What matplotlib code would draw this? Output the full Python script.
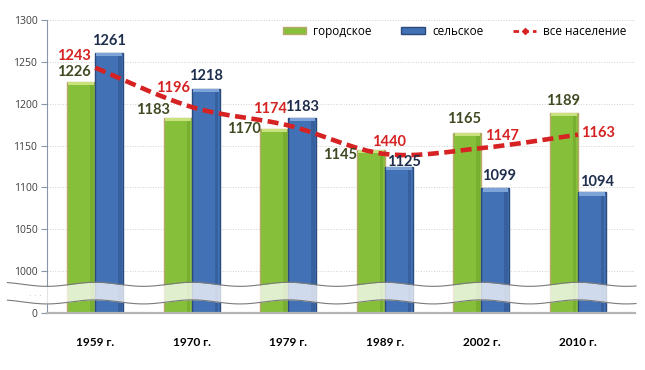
import numpy as np
import matplotlib
matplotlib.use('Agg')
import matplotlib.pyplot as plt
from matplotlib.path import Path
from matplotlib.patches import PathPatch, Patch
from matplotlib.lines import Line2D

years = ['1959 г.', '1970 г.', '1979 г.', '1989 г.', '2002 г.', '2010 г.']
urban = [1226, 1183, 1170, 1145, 1165, 1189]
rural = [1261, 1218, 1183, 1125, 1099, 1094]
total = [1243, 1196, 1174, 1140, 1147, 1163]
total_labels = ['1243', '1196', '1174', '1440', '1147', '1163']

# label offsets in pixels (dx, dy) from the bar top / line point
urban_off = [(-7, 10), (-25, 8), (-30, 0), (-31, -5), (-3, 14), (-1, 12)]
rural_off = [(0, 12), (0, 13), (0, 11), (5, 4), (4, 12), (5, 10)]
total_off = [(-21, 12), (-19, 19), (-18, 16), (4, 12), (20, 12), (20, 2)]

GREEN = '#86c03a'
GREEN_EDGE = '#b9a66a'
BLUE = '#4271b5'
BLUE_EDGE = '#2b4a7c'
RED = '#d62222'

plt.rcParams['font.family'] = ['Open Sans', 'DejaVu Sans']


def fwd(v):
    v = np.asarray(v, dtype=float)
    return np.where(v >= 1000, v, 950 + v * 0.05)


def inv(u):
    u = np.asarray(u, dtype=float)
    return np.where(u >= 1000, u, (u - 950) / 0.05)


fig = plt.figure(figsize=(6.45, 3.70), dpi=100)
ax = fig.add_axes([0.0729, 0.154, 0.9116, 0.792])
ax.set_yscale('function', functions=(fwd, inv))
ax.set_ylim(0, 1300)
ax.set_xlim(-0.5, 5.59)

x = np.arange(len(years))
w = 0.29

ax.set_yticks([0, 1000, 1050, 1100, 1150, 1200, 1250, 1300])
ax.set_yticklabels(['0', '1000', '1050', '1100', '1150', '1200', '1250', '1300'])
ax.tick_params(axis='y', labelsize=7.5, labelcolor='#404040', color='#8a96a8',
               length=4, width=0.8, pad=3)
ax.set_xticks(x)
ax.set_xticklabels(years, fontsize=8.5, fontweight='bold', family=['Lato', 'Open Sans'])
ax.tick_params(axis='x', length=0, pad=17)

for v in [1000, 1050, 1100, 1150, 1200, 1250, 1300]:
    ax.axhline(v, color='#d0d0d0', lw=0.7, ls=':', zorder=0)

for s in ['top', 'right']:
    ax.spines[s].set_visible(False)
ax.spines['left'].set_color('#8a96a8')
ax.spines['bottom'].set_color('#b4b4b4')
ax.spines['bottom'].set_linewidth(1.6)

bars_u = ax.bar(x - w / 2, urban, w, color=GREEN, edgecolor=GREEN_EDGE, lw=1.0, zorder=2)
bars_r = ax.bar(x + w / 2, rural, w, color=BLUE, edgecolor=BLUE_EDGE, lw=1.0, zorder=2)
# light top caps
ax.bar(x - w / 2, 4, w * 0.92, bottom=np.array(urban) - 4, color='#c9e27e', lw=0, zorder=3)
ax.bar(x + w / 2, 4, w * 0.92, bottom=np.array(rural) - 4, color='#7ea3d6', lw=0, zorder=3)
# shading on the right side of bars
ax.bar(x - w / 2 + w * 0.38, urban, w * 0.12, color='#6fa52c', lw=0, alpha=0.6, zorder=2.5)
ax.bar(x + w / 2 + w * 0.38, rural, w * 0.12, color='#2f5590', lw=0, alpha=0.6, zorder=2.5)

# smooth line through total values (Catmull-Rom as cubic beziers)
pts = np.column_stack([x, total]).astype(float)
verts = [tuple(pts[0])]
codes = [Path.MOVETO]
for i in range(len(pts) - 1):
    p0 = pts[i - 1] if i > 0 else pts[i]
    p1 = pts[i]
    p2 = pts[i + 1]
    p3 = pts[i + 2] if i + 2 < len(pts) else pts[i + 1]
    c1 = p1 + (p2 - p0) / 6
    c2 = p2 - (p3 - p1) / 6
    verts += [tuple(c1), tuple(c2), tuple(p2)]
    codes += [Path.CURVE4, Path.CURVE4, Path.CURVE4]
curve = PathPatch(Path(verts, codes), fill=False, edgecolor=RED, lw=3.3,
                  linestyle=(0, (2.4, 1.2)), zorder=4)
ax.add_patch(curve)

# axis break
trans = ax.get_xaxis_transform()
xs = np.linspace(-0.91, 5.6, 400)
wave = 0.007 * np.cos(2 * np.pi * xs)
y_hi = 0.098 + wave
y_lo = 0.038 + wave
ax.fill_between(xs, y_lo, y_hi, transform=trans, color='white', alpha=0.75,
                lw=0, zorder=5, clip_on=False)
ax.plot(xs, y_hi, transform=trans, color='#7a7a7a', lw=0.8, zorder=6, clip_on=False)
ax.plot(xs, y_lo, transform=trans, color='#7a7a7a', lw=0.8, zorder=6, clip_on=False)
ax.text(-0.62, 0.068, '. . .', transform=trans, ha='center', va='center',
        fontsize=7, color='#404040')

num_font = ['Lato', 'Open Sans']
for i in range(len(years)):
    ax.annotate(str(urban[i]), (x[i] - w / 2, urban[i]), xytext=urban_off[i],
                textcoords='offset pixels', ha='center', va='center',
                fontsize=10.5, fontweight='bold', color='#3f4a22', family=num_font, zorder=7)
    ax.annotate(str(rural[i]), (x[i] + w / 2, rural[i]), xytext=rural_off[i],
                textcoords='offset pixels', ha='center', va='center',
                fontsize=10.5, fontweight='bold', color='#1e2e4c', family=num_font, zorder=7)
    ax.annotate(total_labels[i], (x[i], total[i]), xytext=total_off[i],
                textcoords='offset pixels', ha='center', va='center',
                fontsize=10.5, fontweight='bold', color=RED, family=num_font, zorder=7)

handles = [Patch(facecolor=GREEN, edgecolor=GREEN_EDGE),
           Patch(facecolor=BLUE, edgecolor=BLUE_EDGE),
           Line2D([0], [0], color=RED, lw=2, ls=(0, (2, 1.5)), marker='D', markersize=3)]
fig.legend(handles, ['городское', 'сельское', 'все население'], loc='center',
           bbox_to_anchor=(0.705, 0.916), ncol=3, frameon=False, fontsize=8.5,
           handlelength=2.0, handleheight=0.5, columnspacing=2.5, handletextpad=0.6)

fig.savefig('out.png', dpi=100)
